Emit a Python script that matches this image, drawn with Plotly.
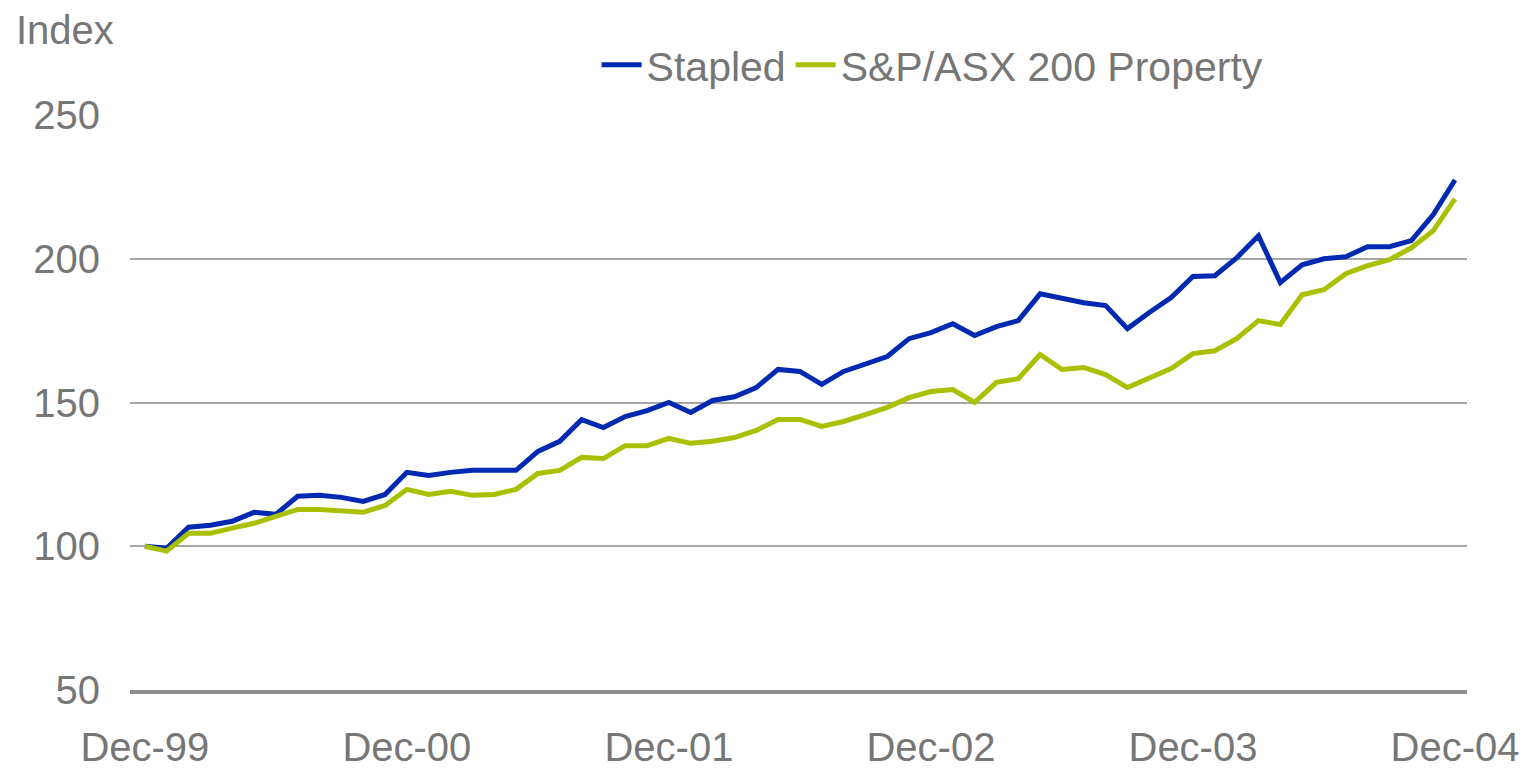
import plotly.graph_objects as go

# Monthly labels Dec-99 .. Dec-04 (61 points)
month_names = ["Jan", "Feb", "Mar", "Apr", "May", "Jun", "Jul", "Aug", "Sep", "Oct", "Nov", "Dec"]
months = ["Dec-99"] + [f"{m}-{y:02d}" for y in range(0, 5) for m in month_names]

stapled = [100.0, 99.3, 106.6, 107.3, 108.7, 111.8, 111.1, 117.4, 117.7, 117.0,
           115.6, 118.0, 125.7, 124.6, 125.7, 126.4, 126.4, 126.4, 133.0, 136.5,
           144.0, 141.3, 145.1, 147.2, 150.0, 146.5, 150.7, 152.0, 155.2, 161.5,
           160.8, 156.3, 160.8, 163.2, 166.0, 172.2, 174.3, 177.4, 173.3, 176.4,
           178.5, 187.8, 186.1, 184.7, 183.7, 175.7, 181.3, 186.5, 193.8, 194.1,
           200.3, 208.0, 191.7, 197.9, 200.0, 200.7, 204.2, 204.2, 206.3, 215.3,
           227.4]

property_idx = [100.0, 98.3, 104.5, 104.5, 106.3, 108.0, 110.4, 112.8, 112.8, 112.5,
                111.8, 114.2, 119.8, 118.0, 119.1, 117.7, 118.0, 119.8, 125.3, 126.4,
                130.9, 130.5, 135.0, 135.0, 137.5, 135.8, 136.5, 137.8, 140.3, 144.1,
                144.1, 141.7, 143.4, 145.8, 148.3, 151.7, 153.8, 154.5, 150.0, 157.0,
                158.3, 166.7, 161.5, 162.2, 159.7, 155.2, 158.3, 161.8, 167.0, 168.0,
                172.2, 178.5, 177.1, 187.5, 189.2, 194.8, 197.6, 199.7, 203.8, 209.7,
                220.8]

tick_labels = ["Dec-99", "Dec-00", "Dec-01", "Dec-02", "Dec-03", "Dec-04"]
y_ticks = [50, 100, 150, 200, 250]

BLUE = "#0029B2"
GREEN = "#A8C000"
TEXT = "#767676"
FONT = "Liberation Sans, Arial, sans-serif"

fig = go.Figure()
fig.add_trace(go.Scatter(x=months, y=stapled, mode="lines", name="Stapled",
                         line=dict(color=BLUE, width=5)))
fig.add_trace(go.Scatter(x=months, y=property_idx, mode="lines", name="S&P/ASX 200 Property",
                         line=dict(color=GREEN, width=5)))

# page body has an 8px default margin, so the figure is sized/offset to compensate
fig.update_layout(
    width=1531, height=762,
    margin=dict(l=122, r=72, t=107, b=80),
    paper_bgcolor="white", plot_bgcolor="white",
    font=dict(family=FONT, size=40, color=TEXT),
    showlegend=True,
    legend=dict(orientation="h", x=0.349, xanchor="left", y=1.087, yanchor="middle",
                font=dict(size=41, color=TEXT), bgcolor="rgba(0,0,0,0)",
                itemwidth=40, tracegroupgap=0),
    xaxis=dict(type="category", range=[-0.68, 60.55], tickmode="array",
               tickvals=tick_labels, ticktext=tick_labels, showgrid=False,
               showline=True, linecolor="#8f8f8f", linewidth=4, ticks="",
               ticklabelstandoff=19, automargin=False, zeroline=False,
               tickfont=dict(size=40, color=TEXT)),
    yaxis=dict(range=[50, 250], tickvals=y_ticks, showgrid=True, gridcolor="#a6a6a6",
               gridwidth=1.5, showline=False, zeroline=False, ticks="",
               ticklabelstandoff=29, automargin=False,
               tickfont=dict(size=40, color=TEXT)),
    annotations=[dict(text="Index", xref="paper", yref="paper", x=-0.087, y=1.148,
                      xanchor="left", yanchor="middle", showarrow=False,
                      font=dict(size=40, color=TEXT, family=FONT))],
)

fig.write_html("out.html")
